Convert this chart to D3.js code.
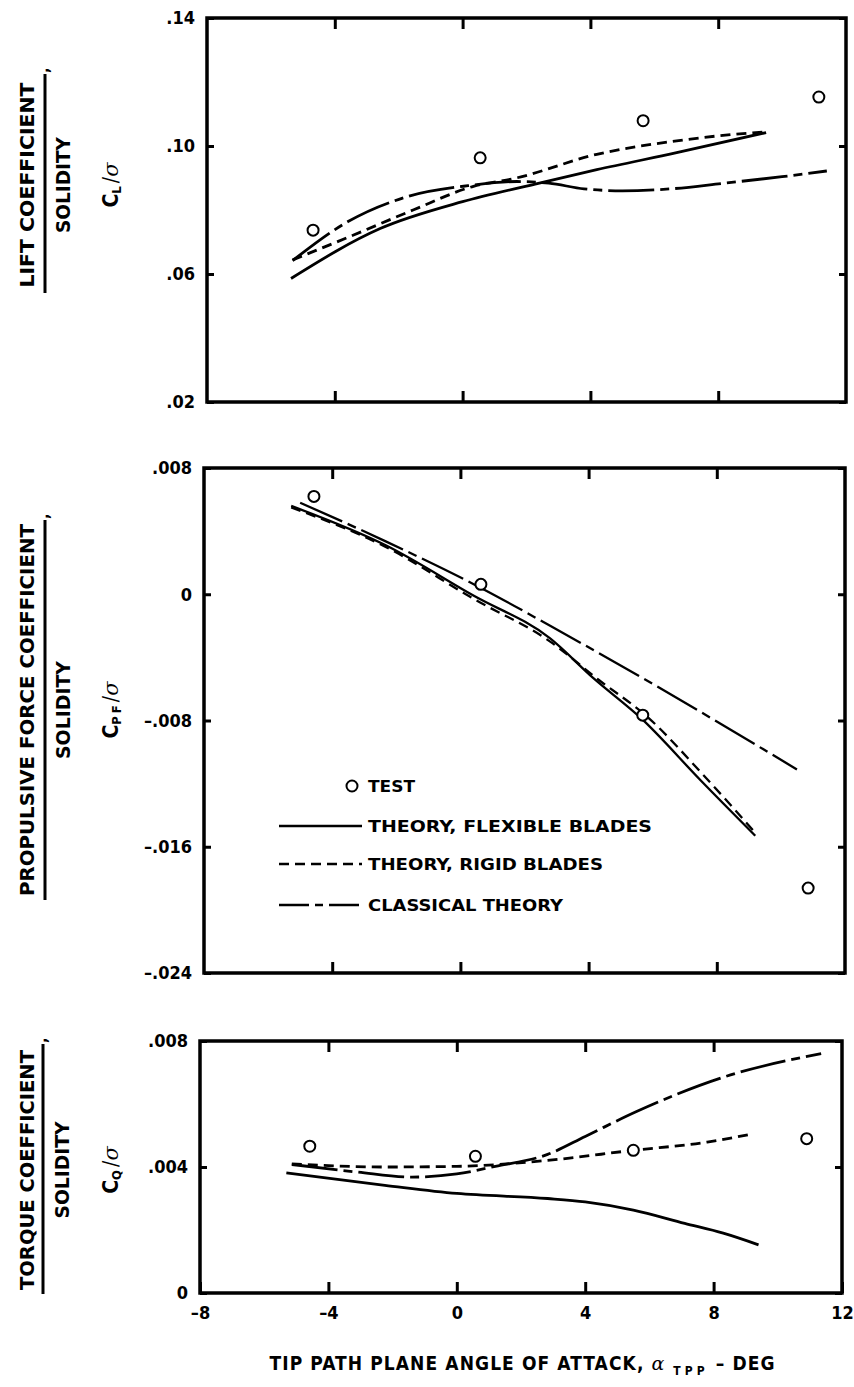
<!DOCTYPE html>
<html>
<head>
<meta charset="utf-8">
<script src="https://cdn.jsdelivr.net/npm/d3@7"></script>
<style>
  body { margin: 0; background: #fff; }
  svg text {
    font-family: "DejaVu Sans Condensed", "Liberation Sans Narrow", "DejaVu Sans", sans-serif;
    font-weight: bold;
    fill: #000;
  }
</style>
</head>
<body>
<svg id="chart" width="854" height="1387"></svg>
<script>
// ---- shared x axis: tip path plane angle of attack (deg)
const xTicks = [-8, -4, 0, 4, 8, 12];
const xTickLabels = ["\u20138", "\u20134", "0", "4", "8", "12"];

// ---- lift coefficient / solidity
const liftTicks = [0.02, 0.06, 0.10, 0.14];
const liftTickLabels = [".02", ".06", ".10", ".14"];
const liftTest = [[-4.68, 0.0737], [0.55, 0.0963], [5.65, 0.1079], [11.15, 0.1153]];
const liftFlexible = [[-5.37, 0.0586], [-2.58, 0.0742], [0, 0.0826], [2.27, 0.0881], [4.2, 0.0926], [6.7, 0.0979], [9.5, 0.1042]];
const liftRigid = [[-5.32, 0.0644], [-3.43, 0.0721], [-1.55, 0.0800], [0.34, 0.0874], [1.68, 0.0900], [4.2, 0.0974], [6.7, 0.1016], [8.03, 0.1032], [9.5, 0.1044]];
const liftClassical = [[-5.32, 0.0642], [-3.6, 0.0763], [-1.72, 0.0842], [0.17, 0.0876], [1.7, 0.0889], [2.7, 0.0884], [3.8, 0.0866], [5.0, 0.0860], [6.5, 0.0866], [8.2, 0.0884], [10.0, 0.0904], [11.4, 0.0922]];

// ---- propulsive force coefficient / solidity
const pfTicks = [-0.024, -0.016, -0.008, 0, 0.008];
const pfTickLabels = ["\u2013.024", "\u2013.016", "\u2013.008", "0", ".008"];
const pfTest = [[-4.57, 0.0062], [0.64, 0.00063], [5.69, -0.00766], [10.85, -0.01862]];
const pfFlexible = [[-5.28, 0.0056], [-2.33, 0.0031], [0.42, -0.0001], [2.8, -0.0028], [4.14, -0.0053], [5.66, -0.0079], [7.5, -0.0118], [9.2, -0.0153]];
const pfRigid = [[-5.28, 0.0055], [-2.33, 0.0030], [0.42, -0.0003], [2.8, -0.0030], [4.3, -0.0054], [5.85, -0.0078], [7.6, -0.0115], [9.15, -0.0150]];
const pfClassical = [[-5.0, 0.0058], [-2.33, 0.00335], [0.64, 0.0004], [2.8, -0.0020], [6.1, -0.0058], [10.5, -0.0111]];

// ---- torque coefficient / solidity
const qTicks = [0, 0.004, 0.008];
const qTickLabels = ["0", ".004", ".008"];
const qTest = [[-4.58, 0.00466], [0.58, 0.00434], [5.5, 0.00453], [10.9, 0.0049]];
const qFlexible = [[-5.31, 0.00381], [-2.24, 0.00342], [0, 0.00316], [2.83, 0.0030], [4, 0.00289], [5.5, 0.00263], [7.1, 0.00221], [8.3, 0.0019], [9.4, 0.00153]];
const qRigid = [[-5.14, 0.0041], [-2.24, 0.0040], [0, 0.00402], [2.83, 0.00421], [5.5, 0.00453], [7.8, 0.00479], [9.2, 0.00505]];
const qClassical = [[-5.14, 0.00408], [-3.1, 0.00384], [-1.4, 0.00368], [0, 0.00378], [1.2, 0.00402], [2.83, 0.0044], [4, 0.00497], [5.6, 0.00576], [8.3, 0.00685], [11.35, 0.0076]];

const svg = d3.select("#chart");

const styles = {
  flexible: { dash: null },
  rigid: { dash: "10,6" },
  classical: { dash: "46,6,9,6" }
};

function drawPanel(p) {
  const x = d3.scaleLinear().domain([-8, 12]).range([p.x0, p.x1]);
  const y = d3.scaleLinear().domain(p.yDomain).range([p.y1, p.y0]);
  const g = svg.append("g");

  // inward tick marks on all four sides
  const inner = [-4, 0, 4, 8];
  const topAx = g.append("g").attr("transform", `translate(0,${p.y0})`)
    .call(d3.axisTop(x).tickValues(inner).tickSizeInner(-11).tickSizeOuter(0).tickFormat(""));
  const botAxis = d3.axisBottom(x).tickSizeOuter(0).tickSizeInner(-11);
  if (p.xLabels) {
    botAxis.tickValues(xTicks).tickPadding(13).tickFormat((d, i) => xTickLabels[i]);
  } else {
    botAxis.tickValues(inner).tickFormat("");
  }
  const botAx = g.append("g").attr("transform", `translate(0,${p.y1})`).call(botAxis);
  const leftAx = g.append("g").attr("transform", `translate(${p.x0},0)`)
    .call(d3.axisLeft(y).tickValues(p.yTicks).tickSizeInner(-7).tickSizeOuter(0).tickPadding(12)
      .tickFormat((d, i) => p.yLabels[i]));
  const rightAx = g.append("g").attr("transform", `translate(${p.x1},0)`)
    .call(d3.axisRight(y).tickValues(p.yTicks).tickSizeInner(-7).tickSizeOuter(0).tickFormat(""));

  [topAx, botAx, leftAx, rightAx].forEach(a => {
    a.select(".domain").remove();
    a.selectAll(".tick line").attr("stroke", "#000").attr("stroke-width", 3);
    a.selectAll(".tick text").attr("font-size", 18).attr("fill", "#000");
  });

  // frame
  g.append("rect")
    .attr("x", p.x0).attr("y", p.y0)
    .attr("width", p.x1 - p.x0).attr("height", p.y1 - p.y0)
    .attr("fill", "none").attr("stroke", "#000").attr("stroke-width", 3.5);

  const line = d3.line().x(d => x(d[0])).y(d => y(d[1])).curve(d3.curveMonotoneX);

  p.series.forEach(s => {
    g.append("path")
      .datum(s.data)
      .attr("d", line)
      .attr("fill", "none")
      .attr("stroke", "#000")
      .attr("stroke-width", p.lineWidth)
      .attr("stroke-linecap", "butt")
      .attr("stroke-dasharray", styles[s.kind].dash);
  });

  g.selectAll("circle.test")
    .data(p.test)
    .join("circle")
    .attr("class", "test")
    .attr("cx", d => x(d[0]))
    .attr("cy", d => y(d[1]))
    .attr("r", 5.5)
    .attr("fill", "#fff")
    .attr("stroke", "#000")
    .attr("stroke-width", 2);

  // rotated axis title: numerator, fraction bar, denominator, symbol
  const t = p.title;
  g.append("text")
    .attr("transform", `translate(${t.nx},${t.cy}) rotate(-90)`)
    .attr("text-anchor", "middle").attr("dominant-baseline", "central")
    .attr("font-size", 19)
    .attr("textLength", t.nLen).attr("lengthAdjust", "spacingAndGlyphs")
    .text(t.numerator);
  g.append("line")
    .attr("x1", t.bx).attr("x2", t.bx)
    .attr("y1", t.by0).attr("y2", t.by1)
    .attr("stroke", "#000").attr("stroke-width", 3);
  g.append("text")
    .attr("transform", `translate(${t.bx + 4},${t.by0 - 1}) rotate(-90)`)
    .attr("text-anchor", "start").attr("font-size", 16)
    .text(",");
  g.append("text")
    .attr("transform", `translate(${t.dx},${t.cy}) rotate(-90)`)
    .attr("text-anchor", "middle").attr("dominant-baseline", "central")
    .attr("font-size", 19)
    .attr("textLength", t.dLen).attr("lengthAdjust", "spacingAndGlyphs")
    .text("SOLIDITY");

  const sym = g.append("text")
    .attr("transform", `translate(${t.sx},${t.cy}) rotate(-90)`)
    .attr("text-anchor", "middle").attr("dominant-baseline", "central")
    .attr("font-size", 21);
  sym.append("tspan").text("C");
  sym.append("tspan").attr("font-size", 13).attr("dy", 5).attr("letter-spacing", 3).text(t.sub);
  sym.append("tspan").attr("dy", -5).attr("font-weight", "normal").text("/");
  sym.append("tspan").attr("font-style", "italic").attr("font-weight", "normal")
    .attr("font-family", "DejaVu Serif, serif").text("\u03c3");
}

drawPanel({
  x0: 207, x1: 846, y0: 18, y1: 402,
  yDomain: [0.02, 0.14], yTicks: liftTicks, yLabels: liftTickLabels,
  lineWidth: 2.8,
  series: [
    { kind: "flexible", data: liftFlexible },
    { kind: "rigid", data: liftRigid },
    { kind: "classical", data: liftClassical }
  ],
  test: liftTest,
  title: { numerator: "LIFT COEFFICIENT", nLen: 205, nx: 27, cy: 185, bx: 45, by0: 74, by1: 293, dx: 63, dLen: 96, sx: 111, sub: "L" }
});

drawPanel({
  x0: 204, x1: 845, y0: 468, y1: 973,
  yDomain: [-0.024, 0.008], yTicks: pfTicks, yLabels: pfTickLabels,
  lineWidth: 2.3,
  series: [
    { kind: "flexible", data: pfFlexible },
    { kind: "rigid", data: pfRigid },
    { kind: "classical", data: pfClassical }
  ],
  test: pfTest,
  title: { numerator: "PROPULSIVE FORCE COEFFICIENT", nLen: 372, nx: 27, cy: 710, bx: 45, by0: 520, by1: 900, dx: 63, dLen: 98, sx: 111, sub: "PF" }
});

drawPanel({
  x0: 200, x1: 842, y0: 1041, y1: 1293,
  yDomain: [0, 0.008], yTicks: qTicks, yLabels: qTickLabels,
  lineWidth: 2.8,
  xLabels: true,
  series: [
    { kind: "flexible", data: qFlexible },
    { kind: "rigid", data: qRigid },
    { kind: "classical", data: qClassical }
  ],
  test: qTest,
  title: { numerator: "TORQUE COEFFICIENT", nLen: 240, nx: 27, cy: 1170, bx: 43, by0: 1044, by1: 1294, dx: 62, dLen: 97, sx: 111, sub: "Q" }
});

// legend inside the propulsive force panel
const legend = svg.append("g");
const legendItems = [
  { kind: "flexible", label: "THEORY, FLEXIBLE BLADES", y: 826, len: 284 },
  { kind: "rigid", label: "THEORY, RIGID BLADES", y: 864, len: 235 },
  { kind: "classical", label: "CLASSICAL THEORY", y: 905, len: 195 }
];
legend.append("circle").attr("cx", 352).attr("cy", 786).attr("r", 5.5)
  .attr("fill", "#fff").attr("stroke", "#000").attr("stroke-width", 2);
legend.append("text").attr("x", 368).attr("y", 792).attr("font-size", 16)
  .attr("textLength", 47).attr("lengthAdjust", "spacingAndGlyphs").text("TEST");
legendItems.forEach(it => {
  legend.append("line")
    .attr("x1", 279).attr("x2", 362).attr("y1", it.y).attr("y2", it.y)
    .attr("stroke", "#000").attr("stroke-width", 2.3)
    .attr("stroke-dasharray", it.kind === "classical" ? "30,6,8,6" : styles[it.kind].dash);
  legend.append("text").attr("x", 368).attr("y", it.y + 6).attr("font-size", 16)
    .attr("textLength", it.len).attr("lengthAdjust", "spacingAndGlyphs")
    .text(it.label);
});

// x axis title
const xt = svg.append("text")
  .attr("x", 522).attr("y", 1370)
  .attr("text-anchor", "middle")
  .attr("font-size", 19)
  .attr("textLength", 505).attr("lengthAdjust", "spacing");
xt.append("tspan").text("TIP PATH PLANE ANGLE OF ATTACK, ");
xt.append("tspan").attr("font-style", "italic").attr("font-weight", "normal")
  .attr("font-family", "DejaVu Serif, serif").text("\u03b1");
xt.append("tspan").attr("font-size", 12).attr("dy", 5).attr("letter-spacing", 3).text(" TPP");
xt.append("tspan").attr("dy", -5).text(" \u2013 DEG");
</script>
</body>
</html>
